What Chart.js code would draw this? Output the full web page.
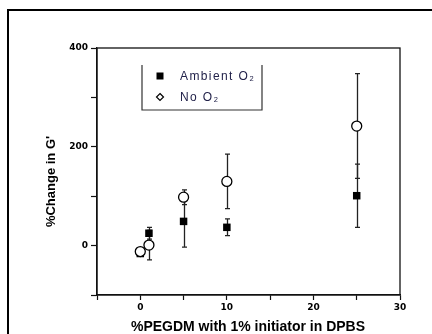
<!DOCTYPE html>
<html><head><meta charset="utf-8">
<script src="https://cdn.jsdelivr.net/npm/chart.js@4.4.0/dist/chart.umd.min.js"></script>
<style>html,body{margin:0;padding:0;background:#fff}canvas{display:block}</style>
</head><body>
<canvas id="c" width="432" height="334"></canvas>
<script>
const xValues = [0, 1, 5, 10, 25];
const ambientO2 = [-16, 25, 49, 37, 101];
const ambientO2Err = [4, 12, 52, 17, 64];
const noO2 = [-12, 1, 98, 130, 242];
const noO2Err = [5, 30, 15, 55, 106];
const seriesLabels = ['Ambient O₂', 'No O₂'];
const xTitle = '%PEGDM with 1% initiator in DPBS';
const yTitle = "%Change in G'";
const xTickLabels = [0, 10, 20, 30];
const yTickLabels = [0, 200, 400];

const toPts = (vals) => xValues.map((x, i) => ({x: x, y: vals[i]}));

const decor = {
  id: 'decor',
  beforeDraw(chart) {
    const ctx = chart.ctx;
    ctx.save();
    ctx.fillStyle = '#fff';
    ctx.fillRect(0, 0, chart.width, chart.height);
    ctx.strokeStyle = '#000';
    ctx.lineWidth = 2;
    ctx.beginPath();
    ctx.moveTo(8, chart.height + 2);
    ctx.lineTo(8, 10);
    ctx.lineTo(chart.width + 2, 10);
    ctx.stroke();
    ctx.restore();
  },
  beforeDatasetsDraw(chart) {
    const ctx = chart.ctx;
    const xs = chart.scales.x, ys = chart.scales.y;
    ctx.save();
    ctx.strokeStyle = '#222';
    ctx.lineWidth = 1.3;
    chart.data.datasets.forEach((ds) => {
      ds.data.forEach((p, i) => {
        const e = ds.errors[i];
        const px = Math.round(xs.getPixelForValue(p.x)) + 0.5;
        const t = ys.getPixelForValue(p.y + e);
        const b = ys.getPixelForValue(p.y - e);
        ctx.beginPath();
        ctx.moveTo(px, t); ctx.lineTo(px, b);
        ctx.moveTo(px - 2.5, t); ctx.lineTo(px + 2.5, t);
        ctx.moveTo(px - 2.5, b); ctx.lineTo(px + 2.5, b);
        ctx.stroke();
      });
    });
    ctx.restore();
  },
  afterDraw(chart) {
    const ctx = chart.ctx;
    const a = chart.chartArea;
    ctx.save();
    ctx.strokeStyle = '#111';
    ctx.lineWidth = 1.3;
    ctx.strokeRect(a.left, a.top, a.right - a.left, a.bottom - a.top);

    // legend box (no top line)
    ctx.strokeStyle = '#333';
    ctx.lineWidth = 1.2;
    ctx.beginPath();
    ctx.moveTo(142, 65); ctx.lineTo(142, 110); ctx.lineTo(262, 110); ctx.lineTo(262, 65);
    ctx.stroke();
    // legend markers
    ctx.fillStyle = '#000';
    ctx.fillRect(156.5, 72.5, 7, 7);
    ctx.strokeStyle = '#000';
    ctx.lineWidth = 1.2;
    ctx.beginPath();
    ctx.moveTo(160, 93.5); ctx.lineTo(163.5, 97); ctx.lineTo(160, 100.5); ctx.lineTo(156.5, 97); ctx.closePath();
    ctx.fillStyle = '#fff'; ctx.fill(); ctx.stroke();
    // legend text
    ctx.fillStyle = '#22224a';
    ctx.font = '12px "Liberation Sans", Arial, sans-serif';
    ctx.textBaseline = 'middle';
    ctx.textAlign = 'left';
    try { ctx.letterSpacing = '1.4px'; } catch (e) {}
    ctx.fillText(chart.data.datasets[0].label, 180, 77);
    ctx.fillText(chart.data.datasets[1].label, 180, 98);
    try { ctx.letterSpacing = '0px'; } catch (e) {}

    // axis titles
    ctx.fillStyle = '#000';
    ctx.font = 'bold 14px "Liberation Sans", Arial, sans-serif';
    ctx.textAlign = 'center';
    ctx.textBaseline = 'middle';
    ctx.fillText(xTitle, 248, 327.5);
    ctx.translate(51, 181.5);
    ctx.rotate(-Math.PI / 2);
    ctx.font = 'bold 13px "Liberation Sans", Arial, sans-serif';
    ctx.fillText(yTitle, 0, 0);
    ctx.restore();
  }
};

new Chart(document.getElementById('c'), {
  type: 'scatter',
  data: {
    datasets: [
      {label: seriesLabels[0], data: toPts(ambientO2), errors: ambientO2Err, order: 2,
       pointStyle: 'rect', pointRadius: 5.3, pointHoverRadius: 5.3,
       backgroundColor: '#000', borderColor: '#000', borderWidth: 0},
      {label: seriesLabels[1], data: toPts(noO2), errors: noO2Err, order: 1,
       pointStyle: 'circle', pointRadius: 5, pointHoverRadius: 5,
       backgroundColor: '#fff', borderColor: '#000', borderWidth: 1.3}
    ]
  },
  options: {
    responsive: false,
    animation: false,
    devicePixelRatio: 1,
    layout: {padding: {left: 0, top: 48, right: 32, bottom: 0}},
    plugins: {legend: {display: false}, tooltip: {enabled: false}},
    scales: {
      x: {
        type: 'linear', min: -5, max: 30,
        afterFit: (s) => { s.height = 39; },
        ticks: {stepSize: 5, autoSkip: false, maxRotation: 0, padding: 2, color: '#000',
          font: {family: '"DejaVu Sans", sans-serif', weight: 'bold', size: 9},
          callback: (v) => xTickLabels.includes(v) ? String(v) : ''},
        grid: {display: true, drawOnChartArea: false, tickLength: 5, tickColor: '#111', tickWidth: 1.2},
        border: {display: true, color: '#111', width: 1.3}
      },
      y: {
        type: 'linear', min: -100, max: 400,
        afterFit: (s) => { s.width = 97; },
        ticks: {stepSize: 100, autoSkip: false, padding: 3, color: '#000',
          font: {family: '"DejaVu Sans", sans-serif', weight: 'bold', size: 9},
          callback: (v) => yTickLabels.includes(v) ? String(v) : ''},
        grid: {display: true, drawOnChartArea: false, tickLength: 6, tickColor: '#111', tickWidth: 1.2},
        border: {display: true, color: '#111', width: 1.3}
      }
    }
  },
  plugins: [decor]
});
</script>
</body></html>
